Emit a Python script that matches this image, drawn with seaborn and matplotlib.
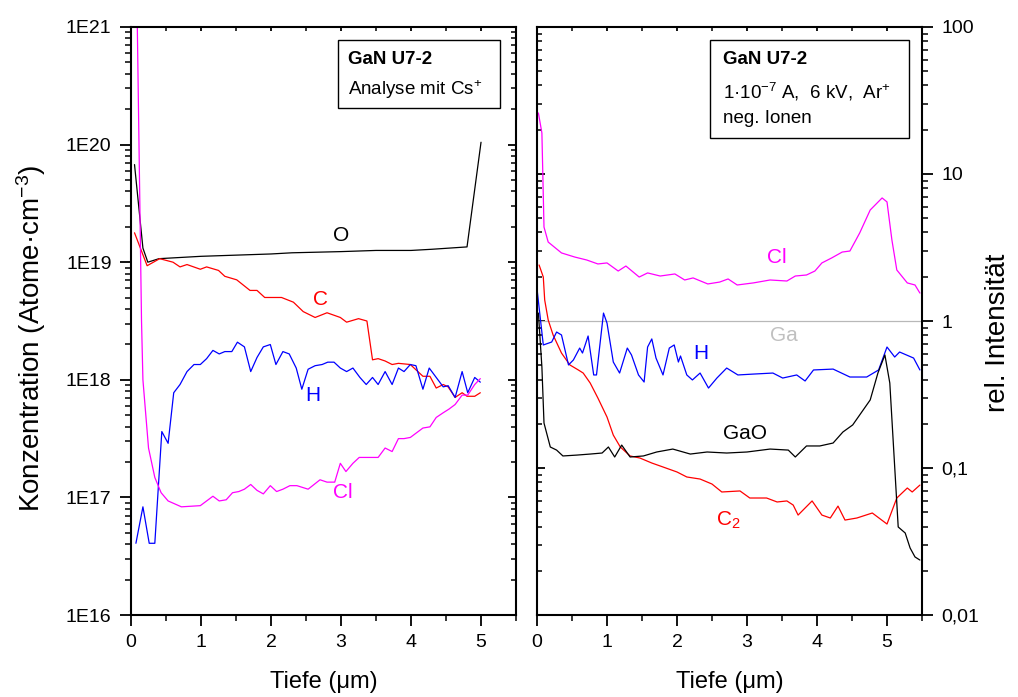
import numpy as np
import matplotlib
matplotlib.use("Agg")
import matplotlib.pyplot as plt
import matplotlib.ticker as mticker
import matplotlib.patches as mpatches
import matplotlib.lines as mlines
import seaborn as sns

# ---- linke Seite: Konzentration, log10(Atome/cm3), Analyse mit Cs+ ----
o_x = [0.05, 0.17, 0.24, 0.4, 1.0, 1.5, 2.0, 2.3, 3.0, 3.5, 4.0, 4.3, 4.8, 5.0]
o_log = [19.83, 19.12, 19.0, 19.03, 19.05, 19.06, 19.07, 19.08, 19.09, 19.10, 19.10, 19.11, 19.13, 20.02]

c_x = [0.05, 0.23, 0.41, 0.6, 0.7, 0.8, 0.99, 1.08, 1.25, 1.34, 1.51, 1.7, 1.8, 1.91, 2.15,
       2.32, 2.46, 2.63, 2.8, 2.99, 3.08, 3.25, 3.37, 3.45, 3.53, 3.63, 3.73, 3.82, 3.99, 4.08,
       4.17, 4.27, 4.36, 4.46, 4.53, 4.63, 4.73, 4.8, 4.91, 4.99]
c_log = [19.25, 18.97, 19.03, 19.00, 18.96, 18.98, 18.94, 18.96, 18.93, 18.88, 18.85, 18.76, 18.76, 18.70, 18.70,
         18.66, 18.58, 18.53, 18.57, 18.53, 18.49, 18.52, 18.50, 18.17, 18.18, 18.16, 18.13, 18.14, 18.13, 18.08,
         18.03, 18.03, 17.93, 17.96, 17.94, 17.85, 17.89, 17.86, 17.86, 17.89]

h_x = [0.07, 0.17, 0.26, 0.34, 0.44, 0.53, 0.61, 0.7, 0.8, 0.9, 0.99, 1.08, 1.17, 1.26, 1.34,
       1.44, 1.52, 1.62, 1.71, 1.8, 1.89, 1.99, 2.07, 2.17, 2.26, 2.36, 2.44, 2.53, 2.63, 2.73,
       2.81, 2.9, 2.99, 3.08, 3.17, 3.27, 3.36, 3.45, 3.53, 3.63, 3.73, 3.82, 3.9, 3.99, 4.07,
       4.17, 4.26, 4.36, 4.46, 4.53, 4.63, 4.73, 4.81, 4.91, 4.99]
h_log = [16.61, 16.92, 16.61, 16.61, 17.56, 17.46, 17.89, 17.96, 18.07, 18.13, 18.13, 18.18, 18.25, 18.22, 18.24,
         18.24, 18.32, 18.28, 18.07, 18.19, 18.28, 18.30, 18.13, 18.24, 18.22, 18.10, 17.92, 18.09, 18.12, 18.13,
         18.15, 18.15, 18.10, 18.07, 18.10, 18.02, 17.96, 18.02, 17.96, 18.07, 17.96, 18.10, 18.07, 18.13, 18.12,
         17.92, 18.10, 18.02, 17.94, 17.95, 17.85, 18.07, 17.89, 18.02, 17.98]

cl_x = [0.06, 0.09, 0.15, 0.17, 0.25, 0.34, 0.43, 0.53, 0.72, 0.99, 1.17, 1.26, 1.36, 1.45, 1.54,
        1.62, 1.71, 1.8, 1.89, 1.99, 2.08, 2.17, 2.27, 2.37, 2.53, 2.7, 2.8, 2.91, 2.99, 3.07,
        3.17, 3.26, 3.53, 3.63, 3.73, 3.82, 3.9, 3.99, 4.08, 4.17, 4.27, 4.36, 4.46, 4.54, 4.63,
        4.73, 4.81, 4.91, 4.99]
cl_log = [21.6, 21.0, 18.5, 18.0, 17.42, 17.17, 17.04, 16.97, 16.92, 16.93, 17.01, 16.97, 16.98, 17.04, 17.05,
          17.07, 17.11, 17.06, 17.03, 17.10, 17.05, 17.07, 17.10, 17.10, 17.07, 17.15, 17.13, 17.13, 17.29, 17.22,
          17.29, 17.34, 17.34, 17.42, 17.39, 17.50, 17.50, 17.51, 17.55, 17.59, 17.60, 17.68, 17.72, 17.75, 17.79,
          17.87, 17.87, 17.96, 18.01]

# ---- rechte Seite: rel. Intensitaet (log10), Ar+, neg. Ionen ----
clr_x = [0.02, 0.07, 0.1, 0.16, 0.35, 0.54, 0.71, 0.87, 1.0, 1.16, 1.27, 1.46, 1.58, 1.76, 1.97,
         2.11, 2.23, 2.44, 2.61, 2.73, 2.86, 3.09, 3.33, 3.57, 3.69, 3.85, 3.97, 4.07, 4.21, 4.36,
         4.47, 4.61, 4.76, 4.93, 5.0, 5.07, 5.14, 5.29, 5.4, 5.47]
clr_log = [1.415, 1.279, 0.639, 0.537, 0.463, 0.435, 0.415, 0.388, 0.395, 0.340, 0.374, 0.299, 0.327, 0.306, 0.320,
           0.279, 0.293, 0.252, 0.265, 0.286, 0.245, 0.259, 0.279, 0.272, 0.306, 0.313, 0.340, 0.395, 0.429, 0.469,
           0.476, 0.599, 0.755, 0.837, 0.810, 0.551, 0.347, 0.259, 0.245, 0.190]

hr_x = [0.0, 0.09, 0.21, 0.28, 0.35, 0.45, 0.52, 0.61, 0.65, 0.73, 0.81, 0.85, 0.95, 1.0, 1.09,
        1.18, 1.29, 1.35, 1.45, 1.53, 1.58, 1.64, 1.7, 1.8, 1.89, 1.96, 2.02, 2.05, 2.14, 2.22,
        2.33, 2.45, 2.57, 2.71, 2.87, 3.09, 3.37, 3.51, 3.71, 3.83, 3.95, 4.23, 4.47, 4.71, 4.88,
        5.0, 5.11, 5.18, 5.38, 5.47]
hr_log = [0.22, -0.163, -0.143, -0.075, -0.095, -0.299, -0.265, -0.184, -0.218, -0.102, -0.367, -0.367, 0.054, -0.014, -0.279,
          -0.354, -0.184, -0.231, -0.367, -0.415, -0.177, -0.122, -0.252, -0.367, -0.184, -0.163, -0.279, -0.238, -0.367, -0.401,
          -0.354, -0.456, -0.388, -0.320, -0.367, -0.361, -0.354, -0.388, -0.367, -0.408, -0.333, -0.327, -0.381, -0.381, -0.333,
          -0.177, -0.245, -0.211, -0.252, -0.333]

c2_x = [0.03, 0.09, 0.11, 0.16, 0.23, 0.35, 0.47, 0.59, 0.66, 0.76, 0.87, 1.0, 1.09, 1.19, 1.33,
        1.47, 1.64, 1.8, 2.0, 2.14, 2.33, 2.5, 2.64, 2.9, 3.04, 3.28, 3.43, 3.57, 3.66, 3.73,
        3.93, 4.07, 4.19, 4.3, 4.4, 4.57, 4.79, 5.0, 5.14, 5.29, 5.36, 5.47]
c2_log = [0.381, 0.299, 0.143, 0.007, -0.095, -0.218, -0.299, -0.333, -0.354, -0.422, -0.524, -0.653, -0.776, -0.857, -0.918,
          -0.932, -0.966, -0.993, -1.027, -1.061, -1.075, -1.109, -1.163, -1.156, -1.204, -1.204, -1.231, -1.224, -1.252, -1.320,
          -1.224, -1.320, -1.340, -1.259, -1.354, -1.340, -1.306, -1.381, -1.204, -1.136, -1.163, -1.116]

gao_x = [0.02, 0.07, 0.1, 0.19, 0.28, 0.37, 0.57, 0.76, 0.93, 1.02, 1.11, 1.21, 1.33, 1.52, 1.71,
         1.94, 2.19, 2.43, 2.71, 3.0, 3.33, 3.59, 3.69, 3.85, 4.04, 4.23, 4.37, 4.51, 4.61, 4.76,
         4.87, 4.97, 5.04, 5.11, 5.16, 5.26, 5.33, 5.4, 5.47]
gao_log = [0.054, -0.313, -0.694, -0.857, -0.878, -0.918, -0.912, -0.905, -0.898, -0.857, -0.925, -0.844, -0.925, -0.918, -0.891,
           -0.871, -0.905, -0.891, -0.898, -0.891, -0.871, -0.878, -0.925, -0.850, -0.850, -0.830, -0.755, -0.707, -0.639, -0.537,
           -0.354, -0.231, -0.422, -0.993, -1.401, -1.442, -1.544, -1.605, -1.626]

ga_x = [0.0, 5.5]
ga_val = [1.0, 1.0]

left_ticks = [1e16, 1e17, 1e18, 1e19, 1e20, 1e21]
left_ticklabels = ["1E16", "1E17", "1E18", "1E19", "1E20", "1E21"]
right_ticks = [0.01, 0.1, 1, 10, 100]
right_ticklabels = ["0,01", "0,1", "1", "10", "100"]

sns.set_style("ticks")
plt.rcParams["font.family"] = ["Liberation Sans", "DejaVu Sans"]
plt.rcParams["mathtext.fontset"] = "custom"
plt.rcParams["mathtext.rm"] = "Liberation Sans"
plt.rcParams["mathtext.it"] = "Liberation Sans:italic"
plt.rcParams["mathtext.bf"] = "Liberation Sans:bold"
plt.rcParams["axes.linewidth"] = 1.5
for key in ["text.color", "axes.labelcolor", "xtick.color", "ytick.color", "axes.edgecolor"]:
    plt.rcParams[key] = "black"

fig = plt.figure(figsize=(10.18, 6.97), dpi=100)
ax1 = fig.add_axes([0.1287, 0.1176, 0.3782, 0.8437])
ax2 = fig.add_axes([0.5275, 0.1176, 0.3782, 0.8437])

LW = 0.9
for xs, ys, col in [(o_x, o_log, "black"), (c_x, c_log, "#ff0000"),
                    (h_x, h_log, "#0000ff"), (cl_x, cl_log, "#ff00ff")]:
    sns.lineplot(x=xs, y=10 ** np.array(ys), ax=ax1, color=col, linewidth=LW,
                 estimator=None, sort=False)

sns.lineplot(x=ga_x, y=ga_val, ax=ax2, color="#b8b8b8", linewidth=LW, estimator=None, sort=False)
for xs, ys, col in [(clr_x, clr_log, "#ff00ff"), (c2_x, c2_log, "#ff0000"),
                    (hr_x, hr_log, "#0000ff"), (gao_x, gao_log, "black")]:
    sns.lineplot(x=xs, y=10 ** np.array(ys), ax=ax2, color=col, linewidth=LW,
                 estimator=None, sort=False)


def set_log_y(ax, ylim, ticks, labels):
    ax.set_yscale("log")
    ax.set_ylim(*ylim)
    ax.yaxis.set_major_locator(mticker.FixedLocator(ticks))
    ax.yaxis.set_minor_locator(mticker.LogLocator(base=10, subs=np.arange(2, 10), numticks=30))
    ax.yaxis.set_minor_formatter(mticker.NullFormatter())
    ax.yaxis.set_major_formatter(mticker.FixedFormatter(labels))


set_log_y(ax1, (1e16, 1e21), left_ticks, left_ticklabels)
set_log_y(ax2, (0.01, 100), right_ticks, right_ticklabels)

for ax in (ax1, ax2):
    ax.set_xlim(0, 5.5)
    ax.xaxis.set_major_locator(mticker.MultipleLocator(1))
    ax.xaxis.set_minor_locator(mticker.MultipleLocator(0.5))
    ax.tick_params(which="major", direction="out", length=8, width=1.3, labelsize=14, pad=6)
    ax.tick_params(which="minor", direction="out", length=4.5, width=1.1)
    ax.tick_params(which="both", top=True, labeltop=False, left=True, right=True)
    ax.set_xlabel("Tiefe (μm)", fontsize=17)
    ax.xaxis.set_label_coords(0.5, -0.095)

ax1.tick_params(which="both", labelleft=True, labelright=False)
ax2.tick_params(which="both", labelleft=False, labelright=True)
ax2.yaxis.set_label_position("right")

ax1.set_ylabel("Konzentration (Atome·cm$^{-3}$)", fontsize=20)
ax1.yaxis.set_label_coords(-0.215, 0.47)
ax2.set_ylabel("rel. Intensität", fontsize=20)
ax2.yaxis.set_label_coords(1.163, 0.48)

# Kurvenbeschriftungen
ax1.text(3.0, 1.7e19, "O", color="black", fontsize=15, ha="center", va="center")
ax1.text(2.71, 4.8e18, "C", color="#ff0000", fontsize=15, ha="center", va="center")
ax1.text(2.59, 7.4e17, "H", color="#0000ff", fontsize=15, ha="center", va="center")
ax1.text(3.03, 1.1e17, "Cl", color="#ff00ff", fontsize=15, ha="center", va="center")

ax2.text(3.43, 2.7, "Cl", color="#ff00ff", fontsize=15, ha="center", va="center")
ax2.text(3.53, 0.80, "Ga", color="#c0c0c0", fontsize=15, ha="center", va="center")
ax2.text(2.34, 0.605, "H", color="#0000ff", fontsize=15, ha="center", va="center")
ax2.text(2.97, 0.173, "GaO", color="black", fontsize=15, ha="center", va="center")
ax2.text(2.73, 0.044, "C$_2$", color="#ff0000", fontsize=15, ha="center", va="center")

# Infoboxen
ax1.add_patch(mpatches.Rectangle((0.538, 0.862), 0.42, 0.116, transform=ax1.transAxes,
                                 facecolor="white", edgecolor="black", linewidth=1.0, zorder=5))
ax1.text(0.564, 0.944, "GaN U7-2", transform=ax1.transAxes, fontsize=13.5,
         fontweight="bold", va="center", zorder=6)
ax1.text(0.564, 0.893, "Analyse mit Cs$^{+}$", transform=ax1.transAxes, fontsize=13.5,
         va="center", zorder=6)

ax2.add_patch(mpatches.Rectangle((0.449, 0.811), 0.517, 0.167, transform=ax2.transAxes,
                                 facecolor="white", edgecolor="black", linewidth=1.0, zorder=5))
ax2.text(0.483, 0.944, "GaN U7-2", transform=ax2.transAxes, fontsize=13.5,
         fontweight="bold", va="center", zorder=6)
ax2.text(0.483, 0.889, "1·10$^{-7}$ A,  6 kV,  Ar$^{+}$", transform=ax2.transAxes,
         fontsize=13.5, va="center", zorder=6)
ax2.text(0.483, 0.845, "neg. Ionen", transform=ax2.transAxes, fontsize=13.5,
         va="center", zorder=6)

# Gegenseiten: Ticks nach innen und kuerzer (Marker der Tick-Linien umstellen)
fig.canvas.draw()


def flip_inward(ticks, attr, marker, size):
    for t in ticks:
        line = getattr(t, attr)
        line.set_marker(marker)
        line.set_markersize(size)


# links: rechte Achsenseite nach innen
flip_inward(ax1.yaxis.get_major_ticks(), "tick2line", mlines.TICKLEFT, 6)
flip_inward(ax1.yaxis.get_minor_ticks(), "tick2line", mlines.TICKLEFT, 3.5)
# rechts: linke Achsenseite nach innen
flip_inward(ax2.yaxis.get_major_ticks(), "tick1line", mlines.TICKRIGHT, 6)
flip_inward(ax2.yaxis.get_minor_ticks(), "tick1line", mlines.TICKRIGHT, 3.5)
# oben: kurze Ticks nach innen
for ax in (ax1, ax2):
    flip_inward(ax.xaxis.get_major_ticks(), "tick2line", mlines.TICKDOWN, 3)
    flip_inward(ax.xaxis.get_minor_ticks(), "tick2line", mlines.TICKDOWN, 3)

fig.savefig("out.png", dpi=100)
